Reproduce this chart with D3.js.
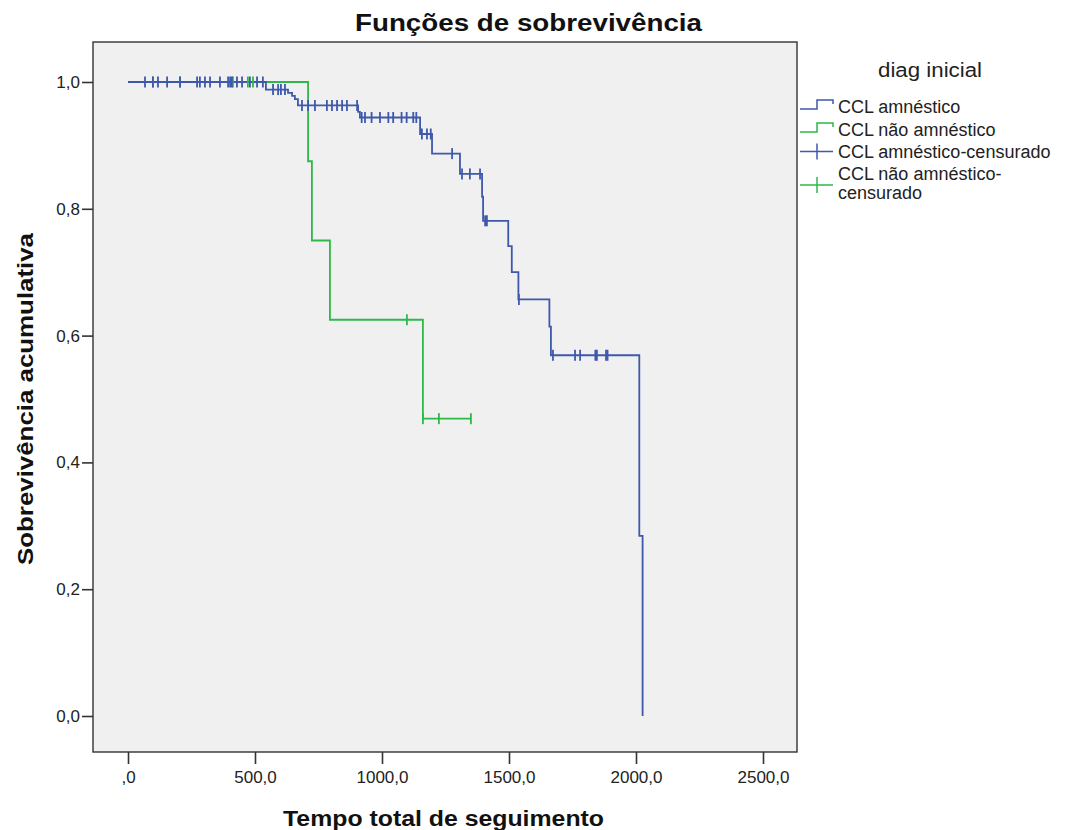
<!DOCTYPE html>
<html>
<head>
<meta charset="utf-8">
<script src="https://cdn.jsdelivr.net/npm/d3@7"></script>
<style>
  html, body { margin: 0; padding: 0; background: #ffffff; }
  svg { display: block; font-family: "Liberation Sans", Arial, sans-serif; }
</style>
</head>
<body>
<svg id="chart" width="1067" height="830"></svg>
<script>
// Kaplan-Meier survival by initial diagnosis
const groups = ["CCL amnéstico", "CCL não amnéstico"];
const legendLabels = ["CCL amnéstico", "CCL não amnéstico", "CCL amnéstico-censurado", "CCL não amnéstico-censurado"];

// amnestic group: event times and survival after each event
const amnEventTimes = [543, 630, 646, 657, 669, 906, 913, 1150, 1197, 1307, 1394, 1398, 1497, 1511, 1537, 1659, 1665, 2013, 2026];
const amnSurvival   = [0.988, 0.983, 0.978, 0.973, 0.963, 0.953, 0.944, 0.918, 0.887, 0.855, 0.819, 0.781, 0.741, 0.700, 0.657, 0.614, 0.569, 0.284, 0.0];
const amnCensored   = [67, 98, 118, 154, 205, 272, 283, 303, 323, 362, 394, 402, 409, 429, 449, 480, 508, 531,
                       571, 591, 602, 618,
                       685, 709, 736, 783, 803, 823, 843, 862, 902,
                       920, 933, 959, 992, 1025, 1044, 1077, 1097, 1123, 1135,
                       1157, 1177, 1192, 1276, 1315, 1346, 1386, 1406, 1413, 1539,
                       1673, 1760, 1780, 1840, 1846, 1882, 1888];

// non-amnestic group
const nonEventTimes = [709, 724, 795, 1161];
const nonSurvival   = [0.875, 0.75, 0.625, 0.469];
const nonCensored   = [98, 205, 413, 472, 492, 1098, 1161, 1224, 1350];

const xTicks = [0, 500, 1000, 1500, 2000, 2500];
const yTicks = [0, 0.2, 0.4, 0.6, 0.8, 1.0];

const colors = ["#3E58AC", "#2EB848"];

const svg = d3.select("#chart");
const frame = { left: 93, right: 797, top: 42, bottom: 752 };

const x = d3.scaleLinear().domain([0, 2500]).range([128, 763]);
const y = d3.scaleLinear().domain([0, 1]).range([716, 82]);

// plot background
svg.append("rect")
  .attr("x", frame.left).attr("y", frame.top)
  .attr("width", frame.right - frame.left).attr("height", frame.bottom - frame.top)
  .attr("fill", "#f0f0f0");

const fmtX = v => v === 0 ? ",0" : d3.format(".1f")(v).replace(".", ",");
const fmtY = v => d3.format(".1f")(v).replace(".", ",");

// axes
const xAxis = svg.append("g")
  .attr("transform", `translate(0,${frame.bottom})`)
  .call(d3.axisBottom(x).tickValues(xTicks).tickFormat(fmtX).tickSize(12).tickPadding(7));
const yAxis = svg.append("g")
  .attr("transform", `translate(${frame.left},0)`)
  .call(d3.axisLeft(y).tickValues(yTicks).tickFormat(fmtY).tickSize(11).tickPadding(2));
[xAxis, yAxis].forEach(g => {
  g.select(".domain").remove();
  g.selectAll(".tick line").attr("stroke", "#333").attr("stroke-width", 1.6);
  g.selectAll(".tick text").attr("fill", "#222").style("font-size", "17px")
    .style("font-family", "'Liberation Sans', Arial, sans-serif");
});

// frame border
svg.append("rect")
  .attr("x", frame.left).attr("y", frame.top)
  .attr("width", frame.right - frame.left).attr("height", frame.bottom - frame.top)
  .attr("fill", "none").attr("stroke", "#333").attr("stroke-width", 1.4);

function survivalAt(t, times, surv) {
  let s = 1;
  for (let i = 0; i < times.length; i++) if (times[i] <= t) s = surv[i];
  return s;
}

function stepPath(times, surv, end) {
  const pts = [[0, 1]];
  let prev = 1;
  times.forEach((t, i) => { pts.push([t, prev]); pts.push([t, surv[i]]); prev = surv[i]; });
  if (end > times[times.length - 1]) pts.push([end, prev]);
  return pts;
}

const line = d3.line().x(d => x(d[0])).y(d => y(d[1]));

const series = [
  { times: amnEventTimes, surv: amnSurvival, cens: amnCensored, color: colors[0] },
  { times: nonEventTimes, surv: nonSurvival, cens: nonCensored, color: colors[1] }
];

// draw the non-amnestic curve first so the amnestic one sits on top
[series[1], series[0]].forEach(s => {
  const end = Math.max(s.times[s.times.length - 1], d3.max(s.cens));
  svg.append("path")
    .datum(stepPath(s.times, s.surv, end))
    .attr("d", line)
    .attr("fill", "none")
    .attr("stroke", s.color)
    .attr("stroke-width", 1.8)
    .attr("stroke-linejoin", "miter");
});
[series[1], series[0]].forEach(s => {
  svg.append("g").selectAll("line")
    .data(s.cens)
    .join("line")
    .attr("x1", d => x(d)).attr("x2", d => x(d))
    .attr("y1", d => y(survivalAt(d, s.times, s.surv)) - 5.5)
    .attr("y2", d => y(survivalAt(d, s.times, s.surv)) + 5.5)
    .attr("stroke", s.color)
    .attr("stroke-width", 1.8);
});

// titles
svg.append("text")
  .attr("x", 355).attr("y", 31)
  .attr("textLength", 347).attr("lengthAdjust", "spacingAndGlyphs")
  .style("font-size", "23px").style("font-weight", "bold").attr("fill", "#111")
  .text("Funções de sobrevivência");

svg.append("text")
  .attr("x", 283).attr("y", 826)
  .attr("textLength", 321).attr("lengthAdjust", "spacingAndGlyphs")
  .style("font-size", "22px").style("font-weight", "bold").attr("fill", "#111")
  .text("Tempo total de seguimento");

svg.append("text")
  .attr("transform", "translate(33,565) rotate(-90)")
  .attr("textLength", 332).attr("lengthAdjust", "spacingAndGlyphs")
  .style("font-size", "22px").style("font-weight", "bold").attr("fill", "#111")
  .text("Sobrevivência acumulativa");

// legend
const lg = svg.append("g");
lg.append("text")
  .attr("x", 878).attr("y", 77)
  .attr("textLength", 104).attr("lengthAdjust", "spacingAndGlyphs")
  .style("font-size", "20px").attr("fill", "#222")
  .text("diag inicial");

const rowBase = [113, 136, 158, 180];
const symX0 = 800, symX1 = 833;
// step symbols
[0, 1].forEach(i => {
  const b = rowBase[i];
  const lo = b - 4, hi = b - 13;
  lg.append("path")
    .attr("d", `M${symX0},${lo} H${symX0 + 17} V${hi} H${symX1} V${hi + 4}`)
    .attr("fill", "none").attr("stroke", colors[i]).attr("stroke-width", 1.5);
});
// censored symbols
[2, 3].forEach(i => {
  const cy = i === 2 ? rowBase[i] - 6.5 : rowBase[i] + 5;
  lg.append("line").attr("x1", symX0).attr("x2", symX1).attr("y1", cy).attr("y2", cy)
    .attr("stroke", colors[i - 2]).attr("stroke-width", 1.5);
  lg.append("line").attr("x1", 817).attr("x2", 817).attr("y1", cy - 8).attr("y2", cy + 8)
    .attr("stroke", colors[i - 2]).attr("stroke-width", 1.5);
});
const legendText = [["CCL amnéstico"], ["CCL não amnéstico"], ["CCL amnéstico-censurado"], ["CCL não amnéstico-", "censurado"]];
legendText.forEach((lines, i) => {
  const t = lg.append("text").attr("x", 838).attr("y", rowBase[i])
    .style("font-size", "18px").attr("fill", "#222");
  lines.forEach((ln, j) => t.append("tspan").attr("x", 838).attr("dy", j === 0 ? 0 : 18.5).text(ln));
});
</script>
</body>
</html>
